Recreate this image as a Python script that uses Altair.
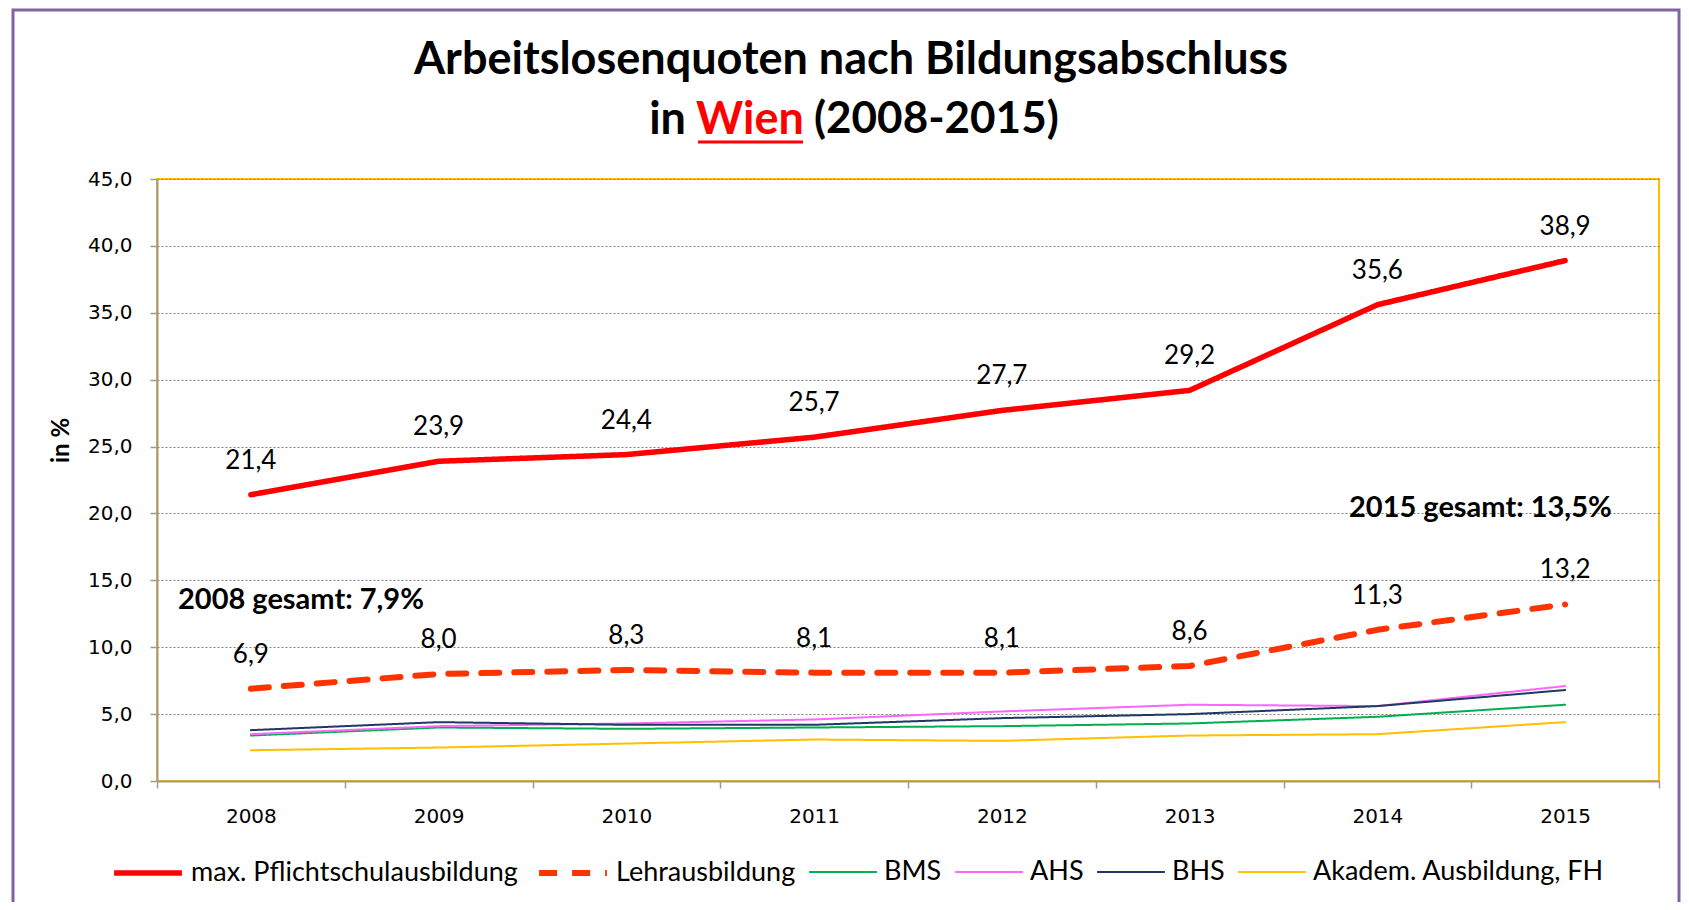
import altair as alt
import pandas as pd

years = [2008, 2009, 2010, 2011, 2012, 2013, 2014, 2015]
pflicht = [21.4, 23.9, 24.4, 25.7, 27.7, 29.2, 35.6, 38.9]
lehre = [6.9, 8.0, 8.3, 8.1, 8.1, 8.6, 11.3, 13.2]
bms = [3.4, 4.0, 3.9, 4.0, 4.1, 4.3, 4.8, 5.7]
ahs = [3.5, 4.1, 4.3, 4.6, 5.2, 5.7, 5.6, 7.1]
bhs = [3.8, 4.4, 4.2, 4.2, 4.7, 5.0, 5.6, 6.8]
akad = [2.3, 2.5, 2.8, 3.1, 3.0, 3.4, 3.5, 4.4]

series_names = ["max. Pflichtschulausbildung", "Lehrausbildung", "BMS", "AHS", "BHS",
                "Akadem. Ausbildung, FH"]
series_values = [pflicht, lehre, bms, ahs, bhs, akad]
series_colors = ["#FF0000", "#FF3300", "#00B050", "#FF66FF", "#1F3864", "#FFC000"]
series_dash = [[1, 0], [18, 15], [1, 0], [1, 0], [1, 0], [1, 0]]
series_width = [5.5, 6, 2, 2, 2, 2]
labelled = ["max. Pflichtschulausbildung", "Lehrausbildung"]

rows = []
for name, vals in zip(series_names, series_values):
    for yr, v in zip(years, vals):
        rows.append({"year": yr, "series": name, "value": v})
df = pd.DataFrame(rows)

W, H = 1502, 602

x_enc = alt.X("year:O", title=None,
              scale=alt.Scale(type="band", paddingInner=0, paddingOuter=0),
              axis=alt.Axis(tickBand="extent", labelAngle=0, labelFont="DejaVu Sans",
                            labelFontSize=20, labelColor="#000000", labelPadding=18,
                            tickSize=7, tickColor="#A09A86", domainColor="#A09A86",
                            domainWidth=2, tickWidth=1.5, grid=False))
y_enc = alt.Y("value:Q", title="in %",
              scale=alt.Scale(domain=[0, 45], nice=False, zero=True),
              axis=alt.Axis(values=list(range(0, 50, 5)),
                            labelExpr="replace(format(datum.value, '.1f'), '.', ',')",
                            labelFont="DejaVu Sans", labelFontSize=20, labelColor="#000000",
                            labelPadding=18, tickSize=7, tickColor="#A09A86",
                            domainColor="#A09A86", domainWidth=2, tickWidth=1.5,
                            grid=True, gridColor="#808080", gridDash=[2, 2], gridWidth=1,
                            titleFont="Lato", titleFontSize=24, titleFontWeight="bold",
                            titleColor="#000000", titleX=-96, titleY=261,
                            titleAlign="center", titleBaseline="middle", titleAngle=-90))

base = alt.Chart(df)

lines = base.mark_line(strokeCap="round", strokeJoin="round").encode(
    x=x_enc,
    y=y_enc,
    color=alt.Color("series:N", sort=series_names,
                    scale=alt.Scale(domain=series_names, range=series_colors),
                    legend=alt.Legend(title=None, orient="none", direction="horizontal",
                                      legendX=-46, legendY=657, symbolType="stroke",
                                      symbolSize=4600, labelFont="Lato", labelFontSize=27,
                                      labelColor="#000000", labelOffset=6,
                                      columnPadding=9, labelLimit=600)),
    strokeDash=alt.StrokeDash("series:N", sort=series_names,
                              scale=alt.Scale(domain=series_names, range=series_dash)),
    strokeWidth=alt.StrokeWidth("series:O", sort=series_names,
                                scale=alt.Scale(type="ordinal", domain=series_names,
                                                range=series_width)),
    order=alt.Order("year:O"),
)

labels = base.transform_filter(
    alt.FieldOneOfPredicate(field="series", oneOf=labelled)
).transform_calculate(
    label="replace(format(datum.value, '.1f'), '.', ',')"
).mark_text(dy=-34, font="Lato", fontSize=26, color="#000000").encode(
    x=alt.X("year:O"), y=alt.Y("value:Q"), text="label:N")

one = pd.DataFrame({"a": [0]})

frame = alt.Chart(one).mark_rect(fillOpacity=0, stroke="#8064A2", strokeWidth=3).encode(
    x=alt.value(-144), x2=alt.value(1522), y=alt.value(-169), y2=alt.value(760))

TF = 45
title1 = alt.Chart(one).mark_text(text="Arbeitslosenquoten nach Bildungsabschluss", font="Lato",
                                  fontSize=TF, fontWeight="bold", color="#000000",
                                  align="center", baseline="middle").encode(
    x=alt.value(694), y=alt.value(-119))
t_in = alt.Chart(one).mark_text(text="in", font="Lato", fontSize=TF, fontWeight="bold",
                                color="#000000", align="right", baseline="middle").encode(
    x=alt.value(529), y=alt.value(-59))
t_wien = alt.Chart(one).mark_text(text="Wien", font="Lato", fontSize=TF, fontWeight="bold",
                                  color="#FF0000", align="center", baseline="middle").encode(
    x=alt.value(593), y=alt.value(-59))
t_year = alt.Chart(one).mark_text(text="(2008-2015)", font="Lato", fontSize=44,
                                  fontWeight="bold", color="#000000", align="left",
                                  baseline="middle").encode(
    x=alt.value(657), y=alt.value(-59))
underline = alt.Chart(one).mark_rule(color="#FF0000", strokeWidth=3).encode(
    x=alt.value(541), x2=alt.value(646), y=alt.value(-37))

ann1 = alt.Chart(one).mark_text(text="2008 gesamt: 7,9%", font="Lato", fontSize=29,
                                fontWeight="bold", color="#000000", align="left",
                                baseline="middle").encode(x=alt.value(21), y=alt.value(421))
ann2 = alt.Chart(one).mark_text(text="2015 gesamt: 13,5%", font="Lato", fontSize=29,
                                fontWeight="bold", color="#000000", align="left",
                                baseline="middle").encode(x=alt.value(1192), y=alt.value(329))

chart = alt.layer(frame, lines, labels, title1, t_in, t_wien, t_year, underline, ann1, ann2).properties(
    width=W, height=H,
    autosize=alt.AutoSizeParams(type="none"),
    padding={"left": 149, "top": 171, "right": 22, "bottom": 121},
    background="#FFFFFF",
).configure_view(stroke="#FFC000", strokeWidth=2)

chart.save("out.html", embed_options={"renderer": "svg", "actions": False})
